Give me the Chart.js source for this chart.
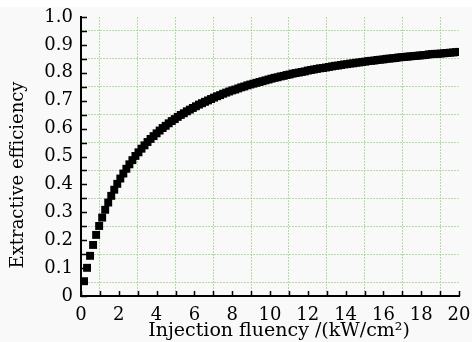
<!DOCTYPE html>
<html>
<head>
<meta charset="utf-8">
<script src="https://cdn.jsdelivr.net/npm/chart.js@4.4.0/dist/chart.umd.min.js"></script>
<style>
  html, body { margin: 0; padding: 0; background: #fff; }
  #wrap { width: 472px; height: 342px; }
</style>
</head>
<body>
<div id="wrap"><canvas id="chart" width="472" height="342"></canvas></div>
<script>
// injection fluency (kW/cm2)
const fluency = [
  0.16, 0.32, 0.48, 0.64, 0.8, 0.96, 1.12, 1.28, 1.44, 1.6,
  1.76, 1.92, 2.08, 2.24, 2.4, 2.56, 2.72, 2.88, 3.04, 3.2,
  3.36, 3.52, 3.68, 3.84, 4, 4.16, 4.32, 4.48, 4.64, 4.8,
  4.96, 5.12, 5.28, 5.44, 5.6, 5.76, 5.92, 6.08, 6.24, 6.4,
  6.56, 6.72, 6.88, 7.04, 7.2, 7.36, 7.52, 7.68, 7.84, 8,
  8.16, 8.32, 8.48, 8.64, 8.8, 8.96, 9.12, 9.28, 9.44, 9.6,
  9.76, 9.92, 10.08, 10.24, 10.4, 10.56, 10.72, 10.88, 11.04, 11.2,
  11.36, 11.52, 11.68, 11.84, 12, 12.16, 12.32, 12.48, 12.64, 12.8,
  12.96, 13.12, 13.28, 13.44, 13.6, 13.76, 13.92, 14.08, 14.24, 14.4,
  14.56, 14.72, 14.88, 15.04, 15.2, 15.36, 15.52, 15.68, 15.84, 16,
  16.16, 16.32, 16.48, 16.64, 16.8, 16.96, 17.12, 17.28, 17.44, 17.6,
  17.76, 17.92, 18.08, 18.24, 18.4, 18.56, 18.72, 18.88, 19.04, 19.2,
  19.36, 19.52, 19.68, 19.84, 20
];
const efficiency = [
  0.053, 0.101, 0.144, 0.183, 0.219, 0.251, 0.281, 0.309, 0.335, 0.359,
  0.381, 0.402, 0.421, 0.439, 0.456, 0.472, 0.487, 0.502, 0.515, 0.528,
  0.540, 0.552, 0.563, 0.573, 0.583, 0.593, 0.602, 0.610, 0.619, 0.627,
  0.634, 0.642, 0.649, 0.655, 0.662, 0.668, 0.674, 0.680, 0.686, 0.691,
  0.696, 0.701, 0.706, 0.711, 0.716, 0.720, 0.725, 0.729, 0.733, 0.737,
  0.740, 0.744, 0.748, 0.751, 0.755, 0.758, 0.761, 0.764, 0.767, 0.770,
  0.773, 0.776, 0.779, 0.782, 0.784, 0.787, 0.789, 0.792, 0.794, 0.797,
  0.799, 0.801, 0.803, 0.805, 0.808, 0.810, 0.812, 0.814, 0.816, 0.817,
  0.819, 0.821, 0.823, 0.825, 0.826, 0.828, 0.830, 0.831, 0.833, 0.834,
  0.836, 0.837, 0.839, 0.840, 0.842, 0.843, 0.844, 0.846, 0.847, 0.848,
  0.850, 0.851, 0.852, 0.853, 0.855, 0.856, 0.857, 0.858, 0.859, 0.860,
  0.861, 0.862, 0.863, 0.864, 0.866, 0.867, 0.868, 0.868, 0.869, 0.870,
  0.871, 0.872, 0.873, 0.874, 0.875
];
const xTickLabels = ['0', '2', '4', '6', '8', '10', '12', '14', '16', '18', '20'];
const yTickLabels = ['0', '0.1', '0.2', '0.3', '0.4', '0.5', '0.6', '0.7', '0.8', '0.9', '1.0'];
const xTitle = 'Injection fluency /(kW/cm\u00B2)';
const yTitle = 'Extractive efficiency';

const FONT = "'DejaVu Serif', serif";
const gridGreen = 'rgba(150, 210, 130, 0.7)';

// every other tick gets a grid line (odd x, and 0.05/0.15/... on y)
const oddGrid = (ctx) => (ctx.index % 2 === 1 ? gridGreen : 'rgba(0,0,0,0)');

// background, inward tick marks and axis titles
const decorations = {
    id: 'decorations',
    beforeDraw(chart) {
        const c = chart.ctx;
        c.save();
        c.fillStyle = '#f9f9f9';
        c.fillRect(0, 7, chart.width, chart.height - 7);
        c.restore();
    },
    afterDraw(chart) {
        const c = chart.ctx;
        const xs = chart.scales.x, ys = chart.scales.y;
        c.save();
        c.strokeStyle = '#000';
        c.lineWidth = 1.5;
        c.beginPath();
        xs.ticks.forEach(t => {
            const px = Math.round(xs.getPixelForValue(t.value)) + 0.5;
            c.moveTo(px, ys.bottom);
            c.lineTo(px, ys.bottom - 5);
        });
        ys.ticks.forEach(t => {
            const py = Math.round(ys.getPixelForValue(t.value)) + 0.5;
            c.moveTo(xs.left, py);
            c.lineTo(xs.left + 6, py);
        });
        c.stroke();

        c.fillStyle = '#000';
        c.textAlign = 'center';
        c.textBaseline = 'middle';
        c.font = '19px ' + FONT;
        c.fillText(xTitle, 279, 331);
        c.font = '18px ' + FONT;
        c.translate(18, 175);
        c.rotate(-Math.PI / 2);
        c.fillText(yTitle, 0, 0);
        c.restore();
    }
};

new Chart(document.getElementById('chart').getContext('2d'), {
    type: 'scatter',
    data: {
        datasets: [{
            data: fluency.map((x, i) => ({ x: x, y: efficiency[i] })),
            pointStyle: 'rect',
            pointRadius: 5.6,
            backgroundColor: '#000',
            borderWidth: 0,
            showLine: false
        }]
    },
    options: {
        responsive: false,
        animation: false,
        layout: { padding: { top: 17, right: 13, left: 0, bottom: 0 } },
        plugins: {
            legend: { display: false },
            tooltip: { enabled: false }
        },
        scales: {
            x: {
                type: 'linear',
                min: 0,
                max: 20,
                afterFit: (s) => { s.height = 46; s.paddingLeft = 0; s.paddingRight = 0; },
                ticks: {
                    stepSize: 1,
                    autoSkip: false,
                    maxRotation: 0,
                    padding: 9,
                    color: '#000',
                    font: { family: FONT, size: 18 },
                    callback: (v, i) => (i % 2 === 0 ? xTickLabels[i / 2] : '')
                },
                grid: { color: oddGrid, lineWidth: 1, drawTicks: false },
                border: { display: true, color: '#000', width: 2, dash: [2, 1] }
            },
            y: {
                min: 0,
                max: 1,
                afterFit: (s) => { s.width = 81; s.paddingTop = 0; s.paddingBottom = 0; },
                ticks: {
                    stepSize: 0.05,
                    autoSkip: false,
                    padding: 8,
                    color: '#000',
                    font: { family: FONT, size: 18 },
                    callback: (v, i) => (i % 2 === 0 ? yTickLabels[i / 2] : '')
                },
                grid: { color: oddGrid, lineWidth: 1, drawTicks: false },
                border: { display: true, color: '#000', width: 2, dash: [2, 1] }
            }
        }
    },
    plugins: [decorations]
});
</script>
</body>
</html>
